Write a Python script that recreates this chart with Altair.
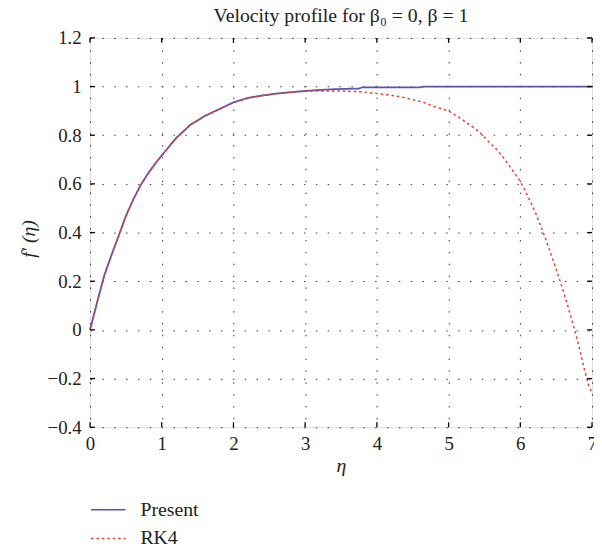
import altair as alt
import pandas as pd

# ---- data ----
present_eta = [0.0, 0.1, 0.2, 0.3, 0.4, 0.5, 0.6, 0.7, 0.8, 0.9, 1.0, 1.2, 1.4, 1.6, 1.8,
               2.0, 2.2, 2.4, 2.6, 2.8, 3.0, 3.2, 3.4, 3.6, 3.75, 3.8, 4.6, 4.65, 7.0]
present_f = [0.0, 0.115, 0.225, 0.308, 0.387, 0.468, 0.534, 0.592, 0.639, 0.68, 0.717, 0.788,
             0.843, 0.879, 0.907, 0.935, 0.953, 0.963, 0.971, 0.977, 0.982, 0.986, 0.989,
             0.991, 0.992, 0.997, 0.997, 1.0, 1.0]

rk4_eta = [0.0, 0.1, 0.2, 0.3, 0.4, 0.5, 0.6, 0.7, 0.8, 0.9, 1.0, 1.2, 1.4, 1.6, 1.8,
           2.0, 2.2, 2.4, 2.6, 2.8, 3.0, 3.2, 3.4, 3.6, 3.8, 3.96, 4.14, 4.31, 4.48, 4.64,
           4.8, 5.0, 5.12, 5.28, 5.42, 5.53, 5.67, 5.78, 5.88, 5.98, 6.07, 6.21, 6.3, 6.4,
           6.5, 6.6, 6.7, 6.8, 6.9, 6.95, 7.0]
rk4_f = [0.0, 0.115, 0.225, 0.308, 0.387, 0.468, 0.534, 0.592, 0.639, 0.68, 0.717, 0.788,
         0.843, 0.879, 0.907, 0.935, 0.953, 0.963, 0.971, 0.977, 0.981, 0.982, 0.982,
         0.981, 0.978, 0.973, 0.966, 0.959, 0.948, 0.936, 0.918, 0.9, 0.878, 0.846,
         0.816, 0.782, 0.741, 0.703, 0.66, 0.619, 0.571, 0.483, 0.415, 0.335, 0.25,
         0.16, 0.06, -0.045, -0.17, -0.225, -0.26]

series_names = ["Present", "RK4"]
series_colors = ["#5656ad", "#ee3b2b"]
x_ticks = [0, 1, 2, 3, 4, 5, 6, 7]
y_ticks = [-0.4, -0.2, 0.0, 0.2, 0.4, 0.6, 0.8, 1.0, 1.2]

W, H = 508, 394
FONT = "Liberation Serif"

present_df = pd.DataFrame({"eta": present_eta, "f": present_f, "series": "Present"})
rk4_df = pd.DataFrame({"eta": rk4_eta, "f": rk4_f, "series": "RK4"})
xt_df = pd.DataFrame({"eta": x_ticks})
yt_df = pd.DataFrame({"f": y_ticks})

xscale = alt.Scale(domain=[0, 7], nice=False, zero=False)
yscale = alt.Scale(domain=[-0.4, 1.2], nice=False, zero=False)

x_enc = alt.X("eta:Q", scale=xscale, axis=alt.Axis(
    values=x_ticks, title="η", titleFont=FONT, titleFontSize=20, titleFontStyle="italic",
    titleFontWeight="normal", titleColor="#222", titlePadding=2,
    labelFont=FONT, labelFontSize=19, labelColor="#222", labelPadding=8,
    labelFlush=False,
    ticks=False, domain=False, grid=True, gridDash=[1.5, 10.5], gridColor="#333",
    gridWidth=1, format="~g"))
y_enc = alt.Y("f:Q", scale=yscale, axis=alt.Axis(
    values=y_ticks, title="f′ (η)", titleFont=FONT, titleFontSize=20, titleFontStyle="italic",
    titleFontWeight="normal", titleColor="#222", titleX=-62, titleY=203,
    titleAngle=-90, titleAlign="center", titleBaseline="middle",
    labelFont=FONT, labelFontSize=19, labelColor="#222", labelPadding=9,
    labelFlush=False,
    ticks=False, domain=False, grid=True, gridDash=[1.5, 10.5], gridColor="#333",
    gridWidth=1, format="~g"))

legend = alt.Legend(title=None, orient="none", legendX=0, legendY=459,
                    symbolType="stroke", symbolSize=1225, symbolStrokeWidth=1.5,
                    labelFont=FONT, labelFontSize=20, labelColor="#222",
                    labelOffset=14, rowPadding=-7)
color_enc = alt.Color("series:N", scale=alt.Scale(domain=series_names, range=series_colors),
                      legend=legend)
dash_enc = alt.StrokeDash("series:N", scale=alt.Scale(domain=series_names,
                                                      range=[[1, 0], [2.5, 3]]),
                          legend=legend)

present_line = alt.Chart(present_df).mark_line(strokeWidth=1.8).encode(
    x=x_enc, y=y_enc, color=color_enc, strokeDash=dash_enc)
rk4_line = alt.Chart(rk4_df).mark_line(strokeWidth=1.5).encode(
    x=alt.X("eta:Q", scale=xscale), y=alt.Y("f:Q", scale=yscale),
    color=color_enc, strokeDash=dash_enc)

tick_style = dict(color="black", strokeWidth=1.3)
left_ticks = alt.Chart(yt_df).mark_rule(**tick_style).encode(
    y=alt.Y("f:Q", scale=yscale), x=alt.value(0), x2=alt.value(5))
right_ticks = alt.Chart(yt_df).mark_rule(**tick_style).encode(
    y=alt.Y("f:Q", scale=yscale), x=alt.value(W), x2=alt.value(W - 5))
bottom_ticks = alt.Chart(xt_df).mark_rule(**tick_style).encode(
    x=alt.X("eta:Q", scale=xscale), y=alt.value(H), y2=alt.value(H - 5))
top_ticks = alt.Chart(xt_df).mark_rule(**tick_style).encode(
    x=alt.X("eta:Q", scale=xscale), y=alt.value(0), y2=alt.value(5))

chart = alt.layer(
    present_line, rk4_line, left_ticks, right_ticks, bottom_ticks, top_ticks
).properties(
    width=W, height=H,
    title=alt.TitleParams(text="Velocity profile for β₀ = 0, β = 1", font=FONT,
                          fontSize=20, fontWeight="normal", color="#222",
                          anchor="middle", offset=3),
    autosize=alt.AutoSizeParams(type="none"),
    padding={"left": 83, "top": 27, "right": 2, "bottom": 123},
).configure_view(
    stroke="black", strokeWidth=1.5
).configure(background="white")

chart.save("out.html", embed_options={"renderer": "svg", "actions": False})
